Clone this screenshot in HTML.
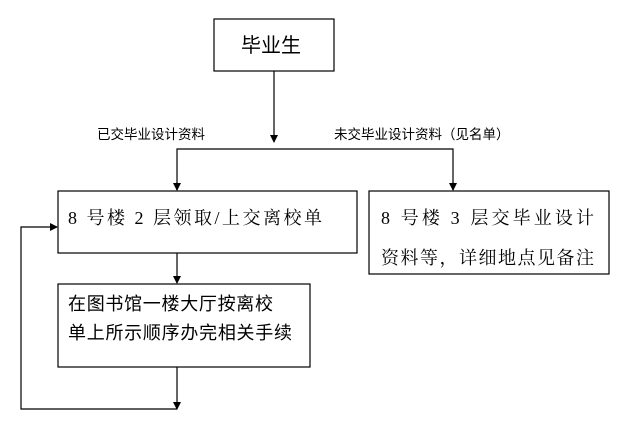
<!DOCTYPE html>
<html><head><meta charset="utf-8"><style>
body{margin:0;background:#fff;}
svg{display:block}
.s{font-family:"Liberation Sans","Noto Sans CJK SC",sans-serif;}
.r{font-family:"Liberation Serif","Noto Serif CJK SC","Noto Sans CJK SC",serif;}
</style></head><body>
<svg width="634" height="424" viewBox="0 0 634 424" xmlns="http://www.w3.org/2000/svg">
<defs><marker id="a" markerWidth="8" markerHeight="8" refX="7" refY="4" orient="auto" markerUnits="userSpaceOnUse"><path d="M0,0 L8,4 L0,8 z" fill="#000"/></marker></defs>
<g fill="#fff" stroke="#000" stroke-width="1.2">
<rect x="214" y="19" width="120" height="52"/>
<rect x="58" y="191" width="299" height="62"/>
<rect x="369" y="191" width="240" height="83"/>
<rect x="58" y="284" width="252" height="83"/>
</g>
<g fill="none" stroke="#000" stroke-width="1.2">
<path d="M274 71 V142" marker-end="url(#a)"/>
<path d="M177 190 V149 H453 V190" />
<path d="M177 182 V190" marker-end="url(#a)"/>
<path d="M453 182 V190" marker-end="url(#a)"/>
<path d="M177 253 V283" marker-end="url(#a)"/>
<path d="M177 367 V409" marker-end="url(#a)"/>
<path d="M177 409 H21 V227 H57" marker-end="url(#a)"/>
</g>
<text class="s" x="241" y="52" font-size="20">毕业生</text>
<text class="s" x="97" y="139" font-size="13.5">已交毕业设计资料</text>
<text class="s" x="334" y="139" font-size="13.5">未交毕业设计资料（见名单）</text>
<text class="r" x="68" y="224" font-size="18" textLength="254">8 号楼 2 层领取/上交离校单</text>
<text class="r" x="381" y="224" font-size="18" textLength="213">8 号楼 3 层交毕业设计</text>
<text class="r" x="381" y="264" font-size="18" textLength="213">资料等，详细地点见备注</text>
<text class="s" x="68" y="310" font-size="18" textLength="205">在图书馆一楼大厅按离校</text>
<text class="s" x="68" y="339" font-size="18" textLength="224">单上所示顺序办完相关手续</text>
</svg>
</body></html>
